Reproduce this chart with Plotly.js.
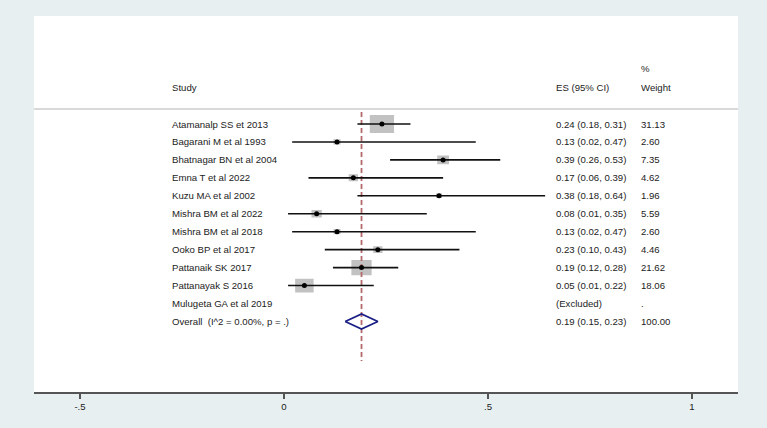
<!DOCTYPE html>
<html>
<head>
<meta charset="utf-8">
<script src="https://cdn.plot.ly/plotly-3.0.1.min.js"></script>
<style>html,body{margin:0;padding:0;background:#e8eff1;}#chart{width:767px;height:428px;}</style>
</head>
<body>
<div id="chart"></div>
<script>
// ---- data ----
const studies = ["Atamanalp SS et 2013","Bagarani M et al 1993","Bhatnagar BN et al 2004","Emna T et al 2022","Kuzu MA et al 2002","Mishra BM et al 2022","Mishra BM et al 2018","Ooko BP et al 2017","Pattanaik SK 2017","Pattanayak S 2016","Mulugeta GA et al 2019"];
const es      = [0.24, 0.13, 0.39, 0.17, 0.38, 0.08, 0.13, 0.23, 0.19, 0.05, null];
const ciLow   = [0.18, 0.02, 0.26, 0.06, 0.18, 0.01, 0.02, 0.10, 0.12, 0.01, null];
const ciHigh  = [0.31, 0.47, 0.53, 0.39, 0.64, 0.35, 0.47, 0.43, 0.28, 0.22, null];
const weights = [31.13, 2.60, 7.35, 4.62, 1.96, 5.59, 2.60, 4.46, 21.62, 18.06, null];
const esText  = ["0.24 (0.18, 0.31)","0.13 (0.02, 0.47)","0.39 (0.26, 0.53)","0.17 (0.06, 0.39)","0.38 (0.18, 0.64)","0.08 (0.01, 0.35)","0.13 (0.02, 0.47)","0.23 (0.10, 0.43)","0.19 (0.12, 0.28)","0.05 (0.01, 0.22)","(Excluded)"];
const wText   = ["31.13","2.60","7.35","4.62","1.96","5.59","2.60","4.46","21.62","18.06","."];
const overallLabel = "Overall \u00a0(I^2 = 0.00%, p = .)";
const overallES = 0.19, overallLow = 0.15, overallHigh = 0.23;
const overallESText = "0.19 (0.15, 0.23)", overallWText = "100.00";
const headers = {study: "Study", es: "ES (95% CI)", pct: "%", weight: "Weight"};
const tickVals = [-0.5, 0, 0.5, 1];
const tickText = ["-.5", "0", ".5", "1"];

// ---- layout geometry ----
const W = 767, H = 428;
const margin = {l: 34, r: 29, t: 16, b: 36, pad: 0};
const xRange = [-0.6127, 1.1127];
const yRange = [15.93, -5.017];
const pxPerX = (W - margin.l - margin.r) / (xRange[1] - xRange[0]);
const pxPerY = (H - margin.t - margin.b) / (yRange[0] - yRange[1]);

const rows = studies.map((_, i) => i + 1);
const overallRow = studies.length + 1;

// boxes (area proportional to weight)
const bx = [], by = [];
studies.forEach((s, i) => {
  if (es[i] == null) return;
  const hw = 4.35 * Math.sqrt(weights[i]) / 2 / pxPerX;
  const hh = 3.25 * Math.sqrt(weights[i]) / 2 / pxPerY;
  const r = rows[i];
  bx.push(es[i]-hw, es[i]+hw, es[i]+hw, es[i]-hw, es[i]-hw, null);
  by.push(r-hh, r-hh, r+hh, r+hh, r-hh, null);
});

const vr = rows.filter((_, i) => es[i] != null);
const ves = es.filter(v => v != null);
const plus = es.map((v, i) => v == null ? null : ciHigh[i] - v).filter(v => v != null);
const minus = es.map((v, i) => v == null ? null : v - ciLow[i]).filter(v => v != null);

const dh = 7.5 / pxPerY;
const traces = [
  {type: 'scatter', mode: 'lines', x: bx, y: by, fill: 'toself', fillcolor: '#c2c2c2',
   line: {width: 0, color: '#c2c2c2'}, hoverinfo: 'skip', showlegend: false},
  {type: 'scatter', mode: 'lines', x: [overallES, overallES], y: [0.33, 14.2],
   line: {color: '#b5696b', width: 1.8, dash: '5px,3px'}, hoverinfo: 'skip', showlegend: false},
  {type: 'scatter', mode: 'markers', x: ves, y: vr,
   marker: {symbol: 'circle', size: 5, color: '#000'},
   error_x: {type: 'data', symmetric: false, array: plus, arrayminus: minus, width: 0, thickness: 1.6, color: '#111'},
   showlegend: false},
  {type: 'scatter', mode: 'lines',
   x: [overallLow, overallES, overallHigh, overallES, overallLow],
   y: [overallRow, overallRow - dh, overallRow, overallRow + dh, overallRow],
   line: {color: '#1a1f86', width: 1.8}, hoverinfo: 'skip', showlegend: false}
];

const fnt = {family: '"Liberation Sans", Arial, sans-serif', size: 9.6, color: '#222'};
const colStudy = (172 - margin.l) / (W - margin.l - margin.r);
const colES = (556 - margin.l) / (W - margin.l - margin.r);
const colW = (641 - margin.l) / (W - margin.l - margin.r);
const ann = [];
function addText(txt, xp, y) {
  ann.push({text: txt, x: xp, y: y, xref: 'paper', yref: 'y', xanchor: 'left', yanchor: 'middle',
            showarrow: false, font: fnt, borderpad: 0, xshift: -1});
}
studies.forEach((s, i) => {
  addText(s, colStudy, rows[i]);
  addText(esText[i], colES, rows[i]);
  addText(wText[i], colW, rows[i]);
});
addText(overallLabel, colStudy, overallRow);
addText(overallESText, colES, overallRow);
addText(overallWText, colW, overallRow);
addText(headers.study, colStudy, -1.06);
addText(headers.es, colES, -1.06);
addText(headers.weight, colW, -1.06);
addText(headers.pct, colW, -2.1);

const layout = {
  width: W, height: H, margin: margin,
  paper_bgcolor: '#e8eff1', plot_bgcolor: '#ffffff',
  showlegend: false,
  xaxis: {range: xRange, showgrid: false, zeroline: false, showline: true, linecolor: '#555', linewidth: 1.5,
          ticks: 'outside', ticklen: 5, tickwidth: 1.5, tickcolor: '#555',
          tickvals: tickVals, ticktext: tickText, tickfont: fnt, fixedrange: true},
  yaxis: {range: yRange, showgrid: false, zeroline: false, showline: false, showticklabels: false, ticks: '', fixedrange: true},
  annotations: ann,
  shapes: [{type: 'line', xref: 'paper', x0: 0, x1: 1, yref: 'y', y0: 0.164, y1: 0.164,
            line: {color: '#cccccc', width: 1.5}, layer: 'below'}]
};
Plotly.newPlot('chart', traces, layout, {displayModeBar: false, staticPlot: true});
</script>
</body>
</html>
